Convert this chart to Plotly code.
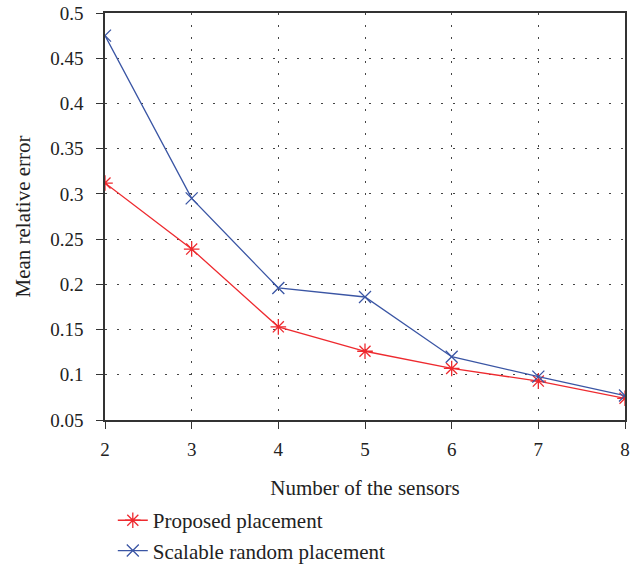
import plotly.graph_objects as go

sensors = [2, 3, 4, 5, 6, 7, 8]
proposed = [0.312, 0.239, 0.153, 0.126, 0.107, 0.093, 0.074]
scalable = [0.475, 0.295, 0.196, 0.186, 0.120, 0.098, 0.077]
y_ticks = [0.05, 0.1, 0.15, 0.2, 0.25, 0.3, 0.35, 0.4, 0.45, 0.5]
y_tick_labels = ["0.05", "0.1", "0.15", "0.2", "0.25", "0.3", "0.35", "0.4", "0.45", "0.5"]

font_family = "Liberation Serif, Times New Roman, serif"
red = "#ee2a2f"
blue = "#3a55a4"

fig = go.Figure()
fig.add_trace(go.Scatter(
    x=sensors, y=proposed, mode="lines+markers", name="Proposed placement",
    line=dict(color=red, width=1.3),
    marker=dict(symbol="asterisk-open", size=13, color=red, line=dict(width=1.3, color=red)),
))
fig.add_trace(go.Scatter(
    x=sensors, y=scalable, mode="lines+markers", name="Scalable random placement",
    line=dict(color=blue, width=1.3),
    marker=dict(symbol="x-thin-open", size=12, color=blue, line=dict(width=1.3, color=blue)),
))

axis_common = dict(
    showline=True, linecolor="#333", linewidth=1.5, mirror=True,
    ticks="outside", ticklen=7, tickcolor="#333", tickwidth=1.3,
    showgrid=True, gridcolor="#444", gridwidth=1.3, griddash="1.5px,10.5px",
    zeroline=False, automargin=False,
    tickfont=dict(family=font_family, size=19, color="#222"),
)

fig.update_layout(
    width=637, height=567,
    margin=dict(l=105, r=12, t=13, b=147),
    paper_bgcolor="white", plot_bgcolor="white",
    font=dict(family=font_family, size=21, color="#222"),
    xaxis=dict(range=[2, 8], tickvals=sensors, **axis_common, ticklabelstandoff=4,
               title=dict(text="Number of the sensors", font=dict(family=font_family, size=21), standoff=22)),
    yaxis=dict(range=[0.05, 0.5], tickvals=y_ticks, ticktext=y_tick_labels, **axis_common, ticklabelstandoff=9,
               title=dict(text="Mean relative error", font=dict(family=font_family, size=21), standoff=14)),
    legend=dict(x=0.015, xanchor="left", yref="container", y=0.118, yanchor="top", orientation="v",
                font=dict(family=font_family, size=21, color="#222"), bgcolor="rgba(0,0,0,0)"),
    showlegend=True,
)

fig.write_html("out.html", config={"displayModeBar": False},
               post_script="document.body.style.margin='0';document.body.style.overflow='hidden';")
